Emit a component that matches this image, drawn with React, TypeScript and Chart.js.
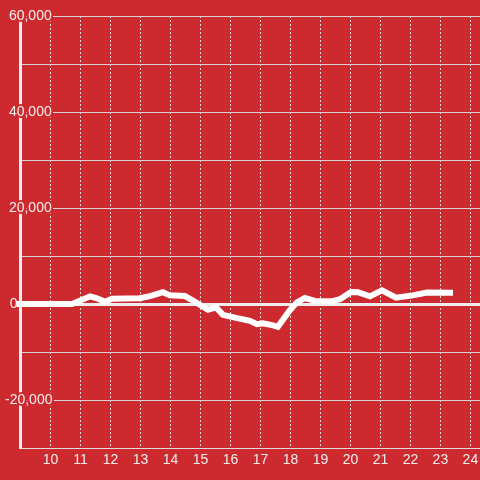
import React, { useEffect, useRef } from "react";
import { Chart, registerables } from "chart.js";

Chart.register(...registerables);

// Time of day (hours) and values
const hours = [
  8.8, 10.72, 11.32, 11.55, 11.82, 12.05, 12.98, 13.32, 13.75, 13.98,
  14.48, 14.75, 14.98, 15.25, 15.52, 15.75, 16.22, 16.65, 16.88, 17.08,
  17.42, 17.58, 17.98, 18.22, 18.48, 18.82, 19.38, 19.65, 20.02, 20.25,
  20.65, 21.05, 21.52, 22.08, 22.55, 23.42,
];
const values = [
  0, 0, 1600, 1200, 450, 1100, 1200, 1650, 2450, 1800,
  1650, 700, -150, -1200, -700, -2250, -2950, -3500, -4200, -4000,
  -4450, -4750, -1300, 350, 1250, 650, 550, 1000, 2500, 2450,
  1600, 2850, 1300, 1800, 2400, 2350,
];

const yTickValues = [60000, 40000, 20000, 0, -20000];
const yTickLabels = [" 60,000", " 40,000", " 20,000", "\u20040", "-20,000"];
const xTickValues = [10, 11, 12, 13, 14, 15, 16, 17, 18, 19, 20, 21, 22, 23, 24];
const xTickLabels = ["10", "11", "12", "13", "14", "15", "16", "17", "18", "19", "20", "21", "22", "23", "24"];

const BG = "#CD2A30";

export default function App() {
  const ref = useRef<HTMLCanvasElement>(null);

  useEffect(() => {
    const font = { family: "'Liberation Sans', Arial, sans-serif", size: 14 };
    const chart = new Chart(ref.current as HTMLCanvasElement, {
      type: "line",
      data: {
        datasets: [
          {
            data: hours.map((h, i) => ({ x: h, y: values[i] })),
            borderColor: "#ffffff",
            borderWidth: 6,
            pointRadius: 0,
            pointHoverRadius: 0,
            tension: 0,
            fill: false,
            clip: { left: 4, top: 5, right: 5, bottom: 5 },
          },
        ],
      },
      options: {
        animation: false,
        responsive: true,
        maintainAspectRatio: false,
        layout: { padding: { top: 16, left: 0, right: 0, bottom: 0 } },
        plugins: { legend: { display: false }, tooltip: { enabled: false } },
        scales: {
          x: {
            type: "linear",
            min: 9,
            max: 24.32,
            afterFit: (s: any) => {
              s.height = 32;
            },
            grid: { color: "#dddddd", lineWidth: 1, drawTicks: false },
            border: { display: true, color: "#dddddd", width: 1, dash: [2, 2] },
            ticks: {
              stepSize: 1,
              autoSkip: false,
              includeBounds: false,
              maxRotation: 0,
              padding: 0,
              color: "#eeeeee",
              font: { ...font, lineHeight: "24px" },
              callback: (v: any) => {
                const i = xTickValues.indexOf(Number(v));
                return i >= 0 ? xTickLabels[i] : "";
              },
            },
          },
          y: {
            min: -30000,
            max: 60000,
            afterFit: (s: any) => {
              s.width = 20.5;
            },
            grid: {
              color: (c: any) => (c.tick && c.tick.value === 0 ? "#eeeeee" : "#d4d4d4"),
              lineWidth: (c: any) => (c.tick && c.tick.value === 0 ? 3 : 1),
              drawTicks: false,
            },
            border: { display: true, color: "#eeeeee", width: 3 },
            ticks: {
              stepSize: 10000,
              mirror: true,
              padding: -15.5,
              color: "#eeeeee",
              font,
              textStrokeColor: BG,
              textStrokeWidth: 4,
              callback: (v: any) => {
                const i = yTickValues.indexOf(Number(v));
                return i >= 0 ? yTickLabels[i] : "";
              },
            },
          },
        },
      },
    } as any);
    return () => chart.destroy();
  }, []);

  return (
    <div
      style={{
        position: "fixed",
        left: 0,
        top: 0,
        width: 480,
        height: 480,
        background: BG,
      }}
    >
      <canvas ref={ref} />
    </div>
  );
}
